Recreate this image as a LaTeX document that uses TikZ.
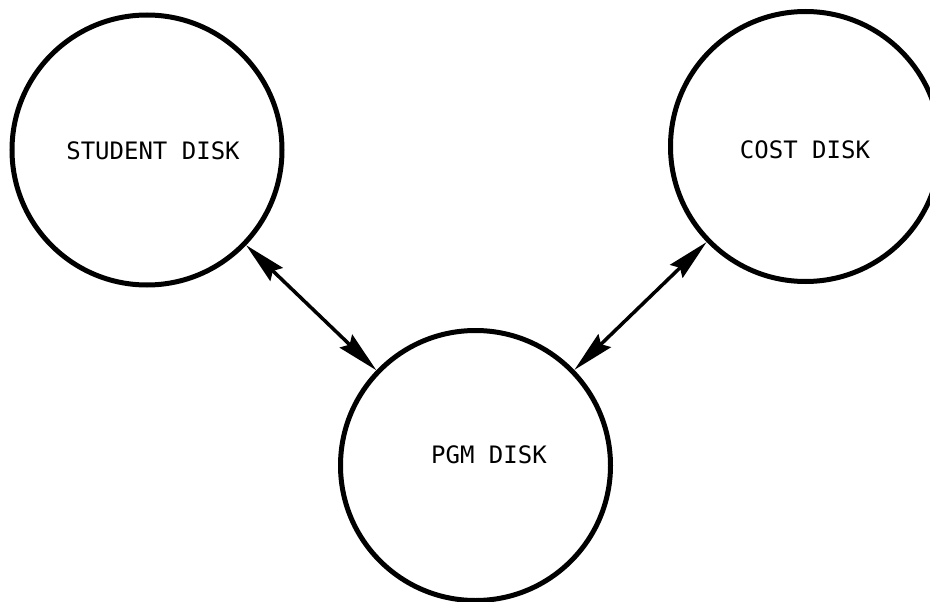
\documentclass[tikz,border=0pt]{standalone}
\usepackage{fontspec}
\newfontfamily\diskfont{DejaVu Sans Mono}
\usetikzlibrary{arrows.meta}

\tikzset{
  disk/.style={draw, circle, line width=5pt, minimum size=270pt, inner sep=0pt},
  disktext/.style={font=\diskfont\fontsize{24}{28}\selectfont, inner sep=0pt},
}

\begin{document}
\begin{tikzpicture}[x=1pt, y=-1pt, >={Stealth[length=42pt, width=18pt, inset=5pt]}]
        \useasboundingbox (0, 0) rectangle (930, 602);
        \node[disk] (student) at (147, 150) {};
        \node[disk] (cost) at (805.5, 146.5) {};
        \node[disk] (pgm) at (475.5, 465.5) {};
        \node[disktext] (studenttext) at (153, 150.5) {STUDENT DISK};
        \node[disktext] (costtext) at (805, 150) {COST DISK};
        \node[disktext] (pgmtext) at (489, 455) {PGM DISK};
        \draw[line width=3.5pt, <->] (student) -- (pgm);
        \draw[line width=3.5pt, <->] (cost) -- (pgm);
    \end{tikzpicture}
\end{document}
